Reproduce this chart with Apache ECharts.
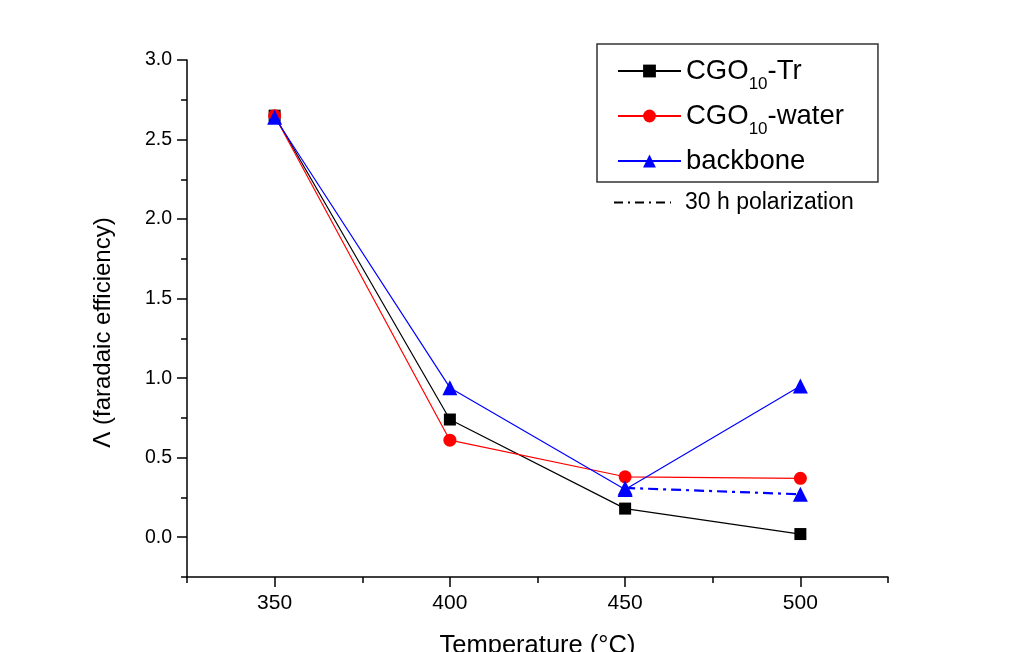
<!DOCTYPE html>
<html><head><meta charset="utf-8">
<script src="https://cdn.jsdelivr.net/npm/echarts@6/dist/echarts.min.js"></script>
<style>html,body{margin:0;padding:0;background:#fff}#c{width:1016px;height:652px}</style>
</head><body><div id="c"></div>
<script>
const temps = [350, 400, 450, 500];
const cgoTr = [2.65, 0.74, 0.18, 0.02];
const cgoWater = [2.65, 0.61, 0.38, 0.37];
const backbone = [2.64, 0.94, 0.30, 0.95];
const polTemps = [450, 500];
const polarization = [0.31, 0.27];
const xTicks = [350, 400, 450, 500];
const yTicks = [0.0, 0.5, 1.0, 1.5, 2.0, 2.5, 3.0];

const X_MIN = 325, X_MAX = 525, Y_MIN = -0.25, Y_MAX = 3.0;
const G = {left: 187, right: 128, top: 60, bottom: 75};
const W = 1016, H = 652;
const plotW = W - G.left - G.right, plotH = H - G.top - G.bottom;
const xMajLeft = G.left + (xTicks[0] - X_MIN) / (X_MAX - X_MIN) * plotW;
const xMajRight = G.right + (X_MAX - xTicks[xTicks.length - 1]) / (X_MAX - X_MIN) * plotW;
const yMajBottom = G.bottom + (yTicks[0] - Y_MIN) / (Y_MAX - Y_MIN) * plotH;

const font = 'Liberation Sans, Arial, sans-serif';
const pair = (xs, ys) => xs.map((x, i) => [x, ys[i]]);
const lbl = {
  'CGO10-Tr': '{a|CGO}{s|10}{a|-Tr}',
  'CGO10-water': '{a|CGO}{s|10}{a|-water}',
  'backbone': '{a|backbone}'
};
const gridBase = {outerBoundsMode: 'none', containLabel: false};

const chart = echarts.init(document.getElementById('c'));
chart.setOption({
  backgroundColor: '#fff',
  animation: false,
  grid: [
    Object.assign({left: G.left, right: G.right, top: G.top, bottom: G.bottom}, gridBase),
    Object.assign({left: xMajLeft, right: xMajRight, top: G.top, bottom: G.bottom}, gridBase),
    Object.assign({left: G.left, right: G.right, top: G.top, bottom: yMajBottom}, gridBase)
  ],
  xAxis: [
    {gridIndex: 0, type: 'value', min: X_MIN, max: X_MAX, interval: 25,
     name: 'Temperature (°C)', nameLocation: 'middle', nameGap: 56,
     nameTextStyle: {fontFamily: font, fontSize: 25.5, color: '#000'},
     axisLine: {onZero: false, lineStyle: {color: '#000', width: 1.5}},
     axisTick: {length: 6, lineStyle: {color: '#000', width: 1.5}},
     axisLabel: {margin: 16, fontFamily: font, fontSize: 21, color: '#000',
       formatter: v => xTicks.includes(v) ? String(v) : ''},
     splitLine: {show: false}},
    {gridIndex: 1, type: 'value', min: xTicks[0], max: xTicks[xTicks.length - 1], interval: 50,
     axisLine: {show: false, onZero: false}, axisTick: {length: 10, lineStyle: {color: '#000', width: 1.5}},
     axisLabel: {show: false}, splitLine: {show: false}},
    {gridIndex: 2, type: 'value', min: X_MIN, max: X_MAX, show: false}
  ],
  yAxis: [
    {gridIndex: 0, type: 'value', min: Y_MIN, max: Y_MAX, interval: 0.25,
     name: 'Λ (faradaic efficiency)', nameLocation: 'middle', nameGap: 72, nameRotate: 90,
     nameTextStyle: {fontFamily: font, fontSize: 24, color: '#000', padding: [0, 28, 0, 0]},
     axisLine: {show: true, onZero: false, lineStyle: {color: '#000', width: 1.5}},
     axisTick: {show: true, length: 6, lineStyle: {color: '#000', width: 1.5}},
     axisLabel: {margin: 15, fontFamily: font, fontSize: 19.5, color: '#000',
       formatter: v => yTicks.some(t => Math.abs(t - v) < 1e-9) ? v.toFixed(1) : ''},
     splitLine: {show: false}},
    {gridIndex: 1, type: 'value', min: Y_MIN, max: Y_MAX, show: false},
    {gridIndex: 2, type: 'value', min: yTicks[0], max: yTicks[yTicks.length - 1], interval: 0.5,
     axisLine: {show: false, onZero: false}, axisTick: {show: true, length: 10, lineStyle: {color: '#000', width: 1.5}},
     axisLabel: {show: false}, splitLine: {show: false}}
  ],
  legend: [
    {data: ['CGO10-Tr', 'CGO10-water', 'backbone'], orient: 'vertical',
     left: 597, top: 44, padding: [13, 34, 7, 20], itemGap: 9,
     itemWidth: 63, itemHeight: 16,
     borderColor: '#333', borderWidth: 1.5, borderRadius: 0,
     formatter: n => lbl[n],
     textStyle: {color: '#000', rich: {
       a: {fontFamily: font, fontSize: 27.5, color: '#000'},
       s: {fontFamily: font, fontSize: 17, color: '#000', padding: [27, 0, 0, 0]}
     }}},
    {data: [{name: '30 h polarization', itemStyle: {opacity: 0}}], left: 608, top: 186, itemWidth: 57, itemHeight: 14,
     textStyle: {fontFamily: font, fontSize: 23, color: '#000', padding: [0, 0, 0, 9]}}
  ],
  series: [
    {name: 'CGO10-Tr', type: 'line', xAxisIndex: 0, yAxisIndex: 0, data: pair(temps, cgoTr),
     symbol: 'rect', symbolSize: 12, color: '#000', lineStyle: {color: '#000', width: 1.2}},
    {name: 'CGO10-water', type: 'line', xAxisIndex: 0, yAxisIndex: 0, data: pair(temps, cgoWater),
     symbol: 'circle', symbolSize: 13, color: '#ff0000', lineStyle: {color: '#ff0000', width: 1.2}},
    {name: 'backbone', type: 'line', xAxisIndex: 0, yAxisIndex: 0, data: pair(temps, backbone),
     symbol: 'triangle', symbolSize: 15, color: '#0000ff', lineStyle: {color: '#0000ff', width: 1.2}},
    {name: 'polarization-data', type: 'line', xAxisIndex: 0, yAxisIndex: 0, data: pair(polTemps, polarization),
     symbol: 'triangle', symbolSize: 15, color: '#0000ff',
     lineStyle: {color: '#0000ff', width: 2.2, type: [10, 5, 3, 5]}},
    {name: '30 h polarization', type: 'line', xAxisIndex: 0, yAxisIndex: 0, data: [],
     symbol: 'none', color: '#000', lineStyle: {color: '#000', width: 2, type: [9, 5, 2, 5]}}
  ]
});
</script></body></html>
